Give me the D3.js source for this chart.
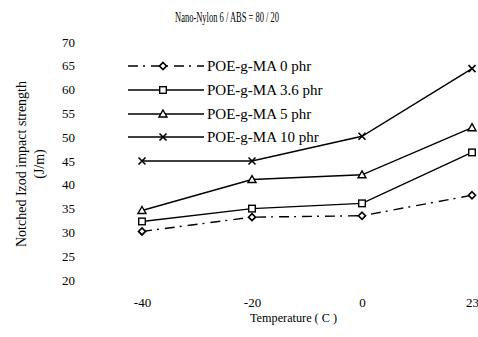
<!DOCTYPE html>
<html><head><meta charset="utf-8">
<script src="https://cdn.jsdelivr.net/npm/d3@7"></script>
<style>
body{margin:0;background:#fff;}
text{font-family:"Liberation Serif","Times New Roman",serif;fill:#000;}
</style></head><body>
<svg id="c" width="478" height="337"></svg>
<script>
const categories = ["-40", "-20", "0", "23"];
const yTicks = [20, 25, 30, 35, 40, 45, 50, 55, 60, 65, 70];
const s0 = [30.2, 33.2, 33.5, 37.8];
const s36 = [32.3, 35.0, 36.1, 46.8];
const s5 = [34.6, 41.1, 42.1, 52.0];
const s10 = [45.0, 45.0, 50.2, 64.4];
const seriesNames = ["POE-g-MA 0 phr", "POE-g-MA 3.6 phr", "POE-g-MA 5 phr", "POE-g-MA 10 phr"];
const markers = ["diamond", "square", "triangle", "cross"];
const dashes = ["10,5,2,6", null, null, null];
const series = [s0, s36, s5, s10];

const svg = d3.select("#c");
const x = d3.scalePoint().domain(categories).range([142, 472]);
const y = d3.scaleLinear().domain([20, 70]).range([280, 42]);
const serif = '"Liberation Serif","Times New Roman",serif';

svg.append("text").attr("x", 175).attr("y", 22)
  .attr("textLength", 104).attr("lengthAdjust", "spacingAndGlyphs")
  .style("font-size", "14px").text("Nano-Nylon 6 / ABS = 80 / 20");

const ya = svg.append("g").attr("transform", "translate(78,0)")
  .call(d3.axisLeft(y).tickValues(yTicks).tickSize(0).tickPadding(3));
ya.attr("font-family", serif);
ya.select(".domain").remove();
ya.selectAll("text").style("font-size", "13px").style("font-family", serif);

const xa = svg.append("g").attr("transform", "translate(0,295)")
  .call(d3.axisBottom(x).tickSize(0).tickPadding(3));
xa.attr("font-family", serif);
xa.select(".domain").remove();
xa.selectAll("text").style("font-size", "13px").style("font-family", serif);

svg.append("text").attr("x", 250).attr("y", 322)
  .attr("textLength", 87).attr("lengthAdjust", "spacingAndGlyphs")
  .style("font-size", "13.5px").text("Temperature ( C )");

const yt = svg.append("text").attr("transform", "translate(26,164) rotate(-90)")
  .attr("text-anchor", "middle").style("font-size", "14px");
yt.append("tspan").attr("x", 0).attr("dy", 0).text("Notched Izod impact strength");
yt.append("tspan").attr("x", 0).attr("dy", 18).text("(J/m)");

function drawMarker(g, type, cx, cy) {
  if (type === "diamond") {
    g.append("path").attr("d", `M${cx},${cy-3.5}L${cx+3.5},${cy}L${cx},${cy+3.5}L${cx-3.5},${cy}Z`)
      .attr("fill", "#fff").attr("stroke", "#000").attr("stroke-width", 1.7);
  } else if (type === "square") {
    g.append("rect").attr("x", cx-3.3).attr("y", cy-3.3).attr("width", 6.6).attr("height", 6.6)
      .attr("fill", "#fff").attr("stroke", "#000").attr("stroke-width", 1.4);
  } else if (type === "triangle") {
    g.append("path").attr("d", `M${cx},${cy-4}L${cx+4},${cy+3}L${cx-4},${cy+3}Z`)
      .attr("fill", "#fff").attr("stroke", "#000").attr("stroke-width", 1.4);
  } else {
    g.append("path").attr("d", `M${cx-3.5},${cy-3.5}L${cx+3.5},${cy+3.5}M${cx-3.5},${cy+3.5}L${cx+3.5},${cy-3.5}`)
      .attr("stroke", "#000").attr("stroke-width", 1.6);
  }
}

const line = d3.line().x((d, i) => x(categories[i])).y(d => y(d));
series.forEach((vals, k) => {
  const g = svg.append("g");
  const p = g.append("path").attr("d", line(vals)).attr("fill", "none")
    .attr("stroke", "#000").attr("stroke-width", 1.4);
  if (dashes[k]) p.attr("stroke-dasharray", dashes[k]);
  vals.forEach((v, i) => drawMarker(g, markers[k], x(categories[i]), y(v)));
});

// legend
const legY = [66, 90, 114, 137];
seriesNames.forEach((name, k) => {
  const g = svg.append("g");
  const ly = legY[k];
  const l = g.append("line").attr("x1", 128).attr("x2", 204).attr("y1", ly).attr("y2", ly)
    .attr("stroke", "#000").attr("stroke-width", 1.5);
  if (dashes[k]) l.attr("stroke-dasharray", dashes[k]);
  drawMarker(g, markers[k], 163, ly);
  g.append("text").attr("x", 207).attr("y", ly + 5).style("font-size", "15px").text(name);
});
</script></body></html>
